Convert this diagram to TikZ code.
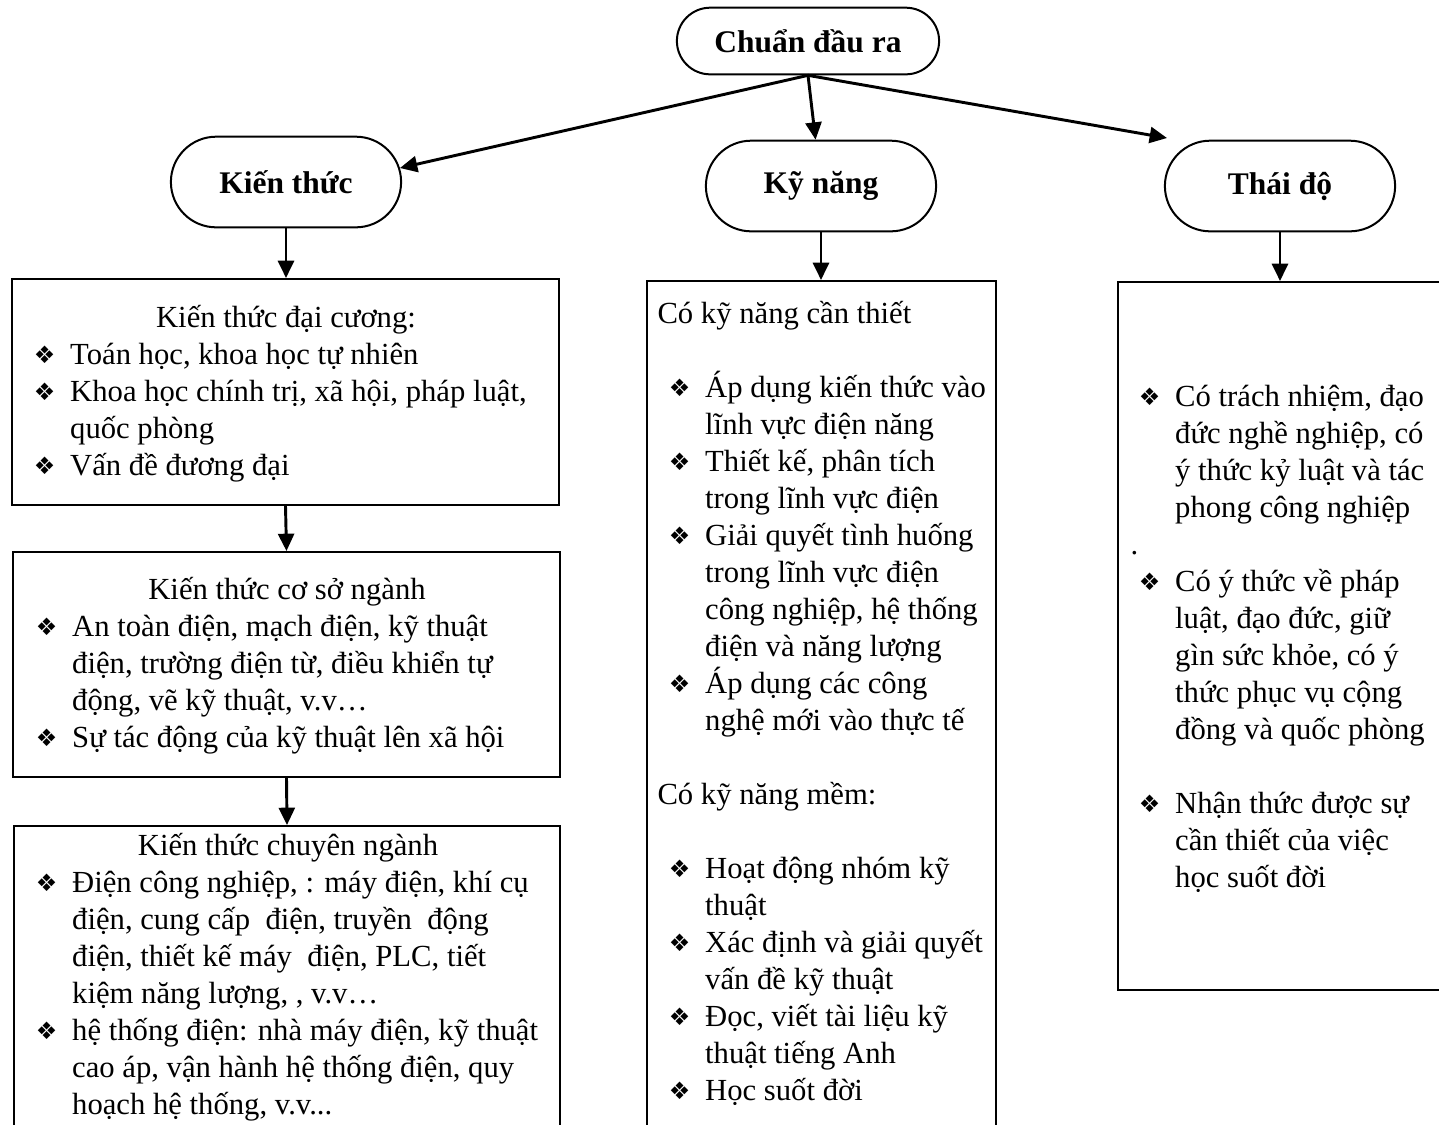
\documentclass[tikz,border=0pt]{standalone}
\usepackage{fontspec}
\setmainfont{Liberation Serif}
\newfontfamily\bulfont{DejaVu Sans}
\usetikzlibrary{arrows.meta,shapes.misc,fit}

\newcommand\kbul{\makebox[13pt][l]{\hspace*{-0.6pt}\raisebox{0.4pt}{\bulfont\fontsize{9}{10}\selectfont ❖}}}
\newcommand\kind{\hspace*{13pt}}
\newcommand\kstrut{\rule{0pt}{12pt}}

\tikzset{
  pill/.style={rounded rectangle, draw, line width=0.75pt, font={\fontsize{11.8}{14}\selectfont\bfseries}, minimum width=93pt, minimum height=34pt},
  box/.style={draw, line width=0.75pt, inner sep=0pt},
  arr/.style={-{Triangle[length=6.5pt,width=6pt]}, line width=1.1pt},
  lst/.style={anchor=north west, align=left, inner sep=0pt, font={\fontsize{11.5}{13.875}\selectfont\lineskiplimit=-10pt}},
  hd/.style={anchor=base, inner sep=0pt, font={\fontsize{11.5}{13.875}\selectfont}},
}

\begin{document}
\begin{tikzpicture}[x=0.375pt,y=-0.375pt]
\useasboundingbox (0,0) rectangle (1439,1124);
\clip (0,0) rectangle (1439,1124);

% top row
\node[pill, minimum width=105pt, minimum height=25pt] (cdr) at (808,41) {Chuẩn đầu ra};
\node[pill] (kt) at (286,182) {Kiến thức};
\node[pill] (kn) at (821,186) {Kỹ năng};
\node[pill] (td) at (1280,186) {Thái độ};
\coordinate (tdin) at (1167,138);

\draw[arr] (cdr.south) -- (kt.7);
\draw[arr] (cdr.south) -- (kn);
\draw[arr] (cdr.south) -- (tdin);

% boxes
\node[box, fit={(12,279) (559,505)}] (kt1) {};
\node[box, fit={(13,552) (560,777)}] (kt2) {};
\node[box, fit={(14,826) (560,1150)}] (kt3) {};
\node[box, fit={(647,281) (996,1150)}] (knb) {};
\node[box, fit={(1118,282) (1450,990)}] (tdb) {};

\draw[arr] (kt.south) -- (kt.south |- kt1.north);
\draw[arr] (kt1.south) -- (kt2.north);
\draw[arr] (kt2.south) -- (kt3.north);
\draw[arr] (kn.south) -- (kn.south |- knb.north);
\draw[arr] (td.south) -- (td.south |- tdb.north);

% Kien thuc
\node[hd] (kt1h) at (286,327) {Kiến thức đại cương:};
\node[lst] (kt1l) at (35,332) {\kstrut\kbul Toán học, khoa học tự nhiên\\
  \kbul Khoa học chính trị, xã hội, pháp luật,\\
  \kind quốc phòng\\
  \kbul Vấn đề đương đại};

\node[hd] (kt2h) at (287,599) {Kiến thức cơ sở ngành};
\node[lst] (kt2l) at (37,604) {\kstrut\kbul An toàn điện, mạch điện, kỹ thuật\\
  \kind điện, trường điện từ, điều khiển tự\\
  \kind động, vẽ kỹ thuật, v.v…\\
  \kbul Sự tác động của kỹ thuật lên xã hội};

\node[hd] (kt3h) at (288,855) {Kiến thức chuyên ngành};
\node[lst] (kt3l) at (37,860) {\kstrut\kbul Điện công nghiệp, : máy điện, khí cụ\\
  \kind điện, cung cấp~ điện, truyền~ động\\
  \kind điện, thiết kế máy~ điện, PLC, tiết\\
  \kind kiệm năng lượng, , v.v…\\
  \kbul hệ thống điện: nhà máy điện, kỹ thuật\\
  \kind cao áp, vận hành hệ thống điện, quy\\
  \kind hoạch hệ thống, v.v...};

% Ky nang
\node[hd, anchor=base west] (knh1) at (657,323) {Có kỹ năng cần thiết};
\node[lst] (knl1) at (670,365) {\kstrut\kbul Áp dụng kiến thức vào\\
  \kind lĩnh vực điện năng\\
  \kbul Thiết kế, phân tích\\
  \kind trong lĩnh vực điện\\
  \kbul Giải quyết tình huống\\
  \kind trong lĩnh vực điện\\
  \kind công nghiệp, hệ thống\\
  \kind điện và năng lượng\\
  \kbul Áp dụng các công\\
  \kind nghệ mới vào thực tế};
\node[hd, anchor=base west] (knh2) at (657,804) {Có kỹ năng mềm:};
\node[lst] (knl2) at (670,846) {\kstrut\kbul Hoạt động nhóm kỹ\\
  \kind thuật\\
  \kbul Xác định và giải quyết\\
  \kind vấn đề kỹ thuật\\
  \kbul Đọc, viết tài liệu kỹ\\
  \kind thuật tiếng Anh\\
  \kbul Học suốt đời};

% Thai do
\node[lst] (tdl) at (1140,374) {\kstrut\kbul Có trách nhiệm, đạo\\
  \kind đức nghề nghiệp, có\\
  \kind ý thức kỷ luật và tác\\
  \kind phong công nghiệp\\
  \hspace*{-3.75pt}.\\
  \kbul Có ý thức về pháp\\
  \kind luật, đạo đức, giữ\\
  \kind gìn sức khỏe, có ý\\
  \kind thức phục vụ cộng\\
  \kind đồng và quốc phòng\\[13.875pt]
  \kbul Nhận thức được sự\\
  \kind cần thiết của việc\\
  \kind học suốt đời};
\end{tikzpicture}
\end{document}
